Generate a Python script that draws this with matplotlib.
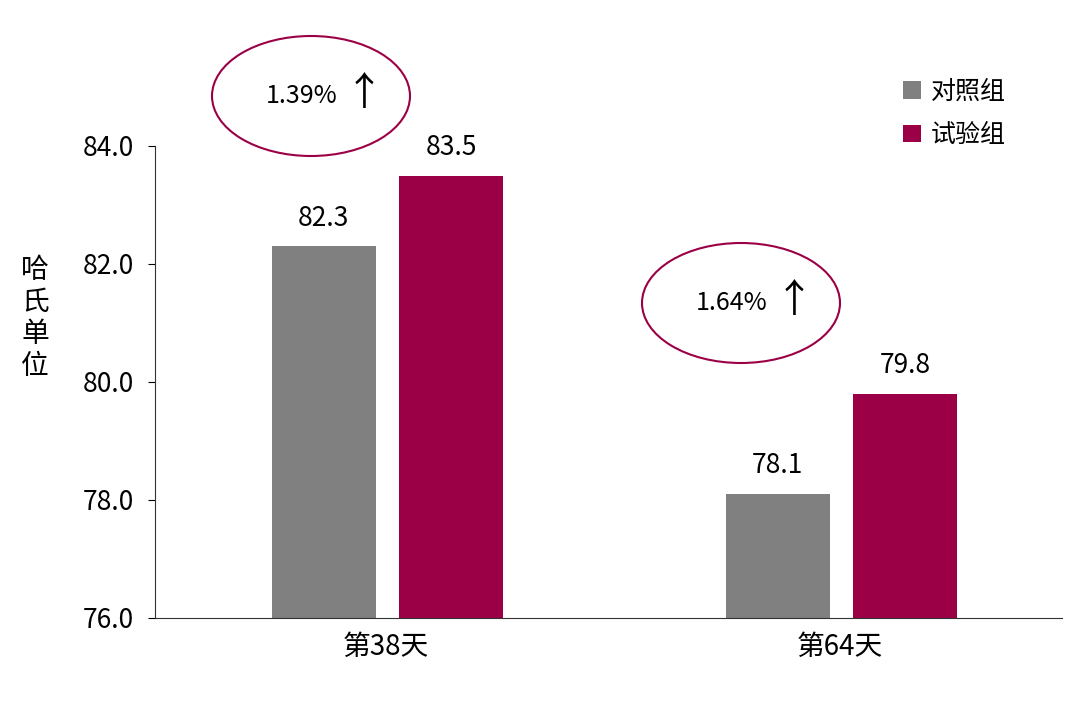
import matplotlib
matplotlib.use("Agg")
import matplotlib.pyplot as plt
from matplotlib.patches import Ellipse

plt.rcParams['font.family'] = ['Noto Sans CJK SC', 'DejaVu Sans']

categories = ["第38天", "第64天"]
control = [82.3, 78.1]
trial = [83.5, 79.8]
series_names = ["对照组", "试验组"]
increases = ["1.39%", "1.64%"]
yticks = [76.0, 78.0, 80.0, 82.0, 84.0]

fig = plt.figure(figsize=(10.8, 7.06), dpi=100)
ax = fig.add_axes([155/1080, 88/706, 907/1080, 472/706])
x = list(range(len(categories)))
w = 0.23
b1 = ax.bar([i - 0.137 for i in x], [v - 76 for v in control], w, bottom=76, color="#808080", label=series_names[0])
b2 = ax.bar([i + 0.143 for i in x], [v - 76 for v in trial], w, bottom=76, color="#9B0046", label=series_names[1])
for bars, vals in ((b1, control), (b2, trial)):
    for r, v in zip(bars, vals):
        ax.text(r.get_x() + r.get_width()/2, v + 0.25, f"{v:.1f}", ha="center", va="bottom", fontsize=19)
ax.set_xlim(-0.509, 1.489)
ax.set_ylim(76, 84)
ax.set_yticks(yticks)
ax.set_yticklabels([f"{t:.1f}" for t in yticks], fontsize=19)
ax.set_xticks(x)
ax.set_xticklabels(categories, fontsize=20)
ax.tick_params(axis='x', length=0, pad=10)
ax.tick_params(axis='y', direction='out', length=5, pad=10)
for s in ("top", "right"):
    ax.spines[s].set_visible(False)
ax.spines['left'].set_color('#333333')
ax.spines['bottom'].set_color('#333333')

for (cx, cy), txt in zip([(311, 96), (741, 303)], increases):
    fx = (cx - 155) / 907
    fy = (618 - cy) / 472
    e = Ellipse((fx, fy), 198/907, 120/472, transform=ax.transAxes, fill=False,
                edgecolor="#9B0046", lw=1.5, clip_on=False)
    ax.add_patch(e)
    ax.text(fx - 0.01, fy, txt, transform=ax.transAxes, ha="center", va="center", fontsize=18)
    ax.text(fx + 0.058, fy + 0.005, "↑", transform=ax.transAxes, ha="center", va="center", fontsize=28)

ax.legend(loc="upper left", bbox_to_anchor=(0.80, 1.19), frameon=False, fontsize=18,
          handlelength=0.7, handleheight=0.7, handletextpad=0.4, labelspacing=0.7)
fig.text(35/1080, 388/706, "哈\n氏\n单\n位", ha="center", va="center", fontsize=20, linespacing=1.1)
fig.savefig("out.png", dpi=100, facecolor="white")
